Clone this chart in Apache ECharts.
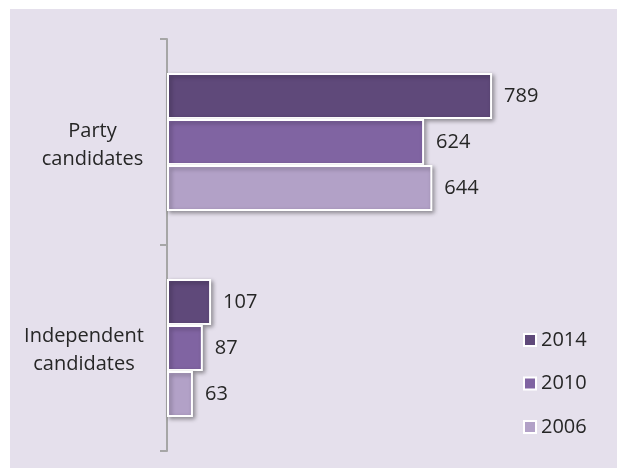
<!DOCTYPE html>
<html>
<head>
<meta charset="utf-8">
<script src="https://cdn.jsdelivr.net/npm/echarts@6/dist/echarts.min.js"></script>
<style>
html,body{margin:0;padding:0;background:#fff;}
#c{width:617px;height:468px;}
</style>
</head>
<body>
<div id="c"></div>
<script>
var categories = ['Party candidates', 'Independent candidates'];
var years = ['2014', '2010', '2006'];
var values2014 = [789, 107];
var values2010 = [624, 87];
var values2006 = [644, 63];
var colors = ['#5F497A', '#8064A2', '#B2A1C7'];

var FONT = '"Open Sans", sans-serif';
var chart = echarts.init(document.getElementById('c'));
var seriesData = [values2014, values2010, values2006];

chart.setOption({
  animation: false,
  graphic: [{
    type: 'rect', z: -10, silent: true,
    shape: {x: 10, y: 9, width: 607, height: 459},
    style: {fill: '#E5E0EC'}
  }],
  grid: {left: 167, top: 39, bottom: 17, width: 412},
  legend: {
    orient: 'vertical', left: 518, top: 325,
    itemWidth: 12, itemHeight: 12, itemGap: 23.5, icon: 'rect',
    data: years,
    textStyle: {fontFamily: FONT, fontSize: 20, color: '#262626'}
  },
  xAxis: {type: 'value', min: 0, max: 1000, show: false},
  yAxis: {
    type: 'category', inverse: true, data: categories,
    axisLine: {lineStyle: {color: '#A6A6A6', width: 2}},
    axisTick: {show: true, length: 7, alignWithLabel: false, lineStyle: {color: '#A6A6A6', width: 2}},
    axisLabel: {
      margin: 83, align: 'center',
      fontFamily: FONT, fontSize: 20, color: '#262626', lineHeight: 28,
      formatter: function (v) {
        var parts = v.split(' ');
        if (v.indexOf('Party') === 0) {
          return '{p|' + parts[0] + '}\n{p|' + parts[1] + '}';
        }
        return '{q|' + parts[0] + '}\n{q|' + parts[1] + '}';
      },
      rich: {
        p: {fontFamily: FONT, fontSize: 20, color: '#262626', lineHeight: 28, padding: [6, 0, 0, 17]},
        q: {fontFamily: FONT, fontSize: 20, color: '#262626', lineHeight: 28, padding: [4, 0, 0, 0]}
      }
    }
  },
  series: years.map(function (y, i) {
    return {
      name: y, type: 'bar', data: seriesData[i],
      barGap: '0%', barCategoryGap: '33%',
      itemStyle: {
        color: colors[i], borderColor: '#ffffff', borderWidth: 2,
        shadowColor: 'rgba(0,0,0,0.35)', shadowBlur: 4, shadowOffsetX: 2, shadowOffsetY: 2
      },
      label: {
        show: true, position: 'right', distance: 12,
        fontFamily: FONT, fontSize: 20, color: '#262626'
      }
    };
  })
});
</script>
</body>
</html>
